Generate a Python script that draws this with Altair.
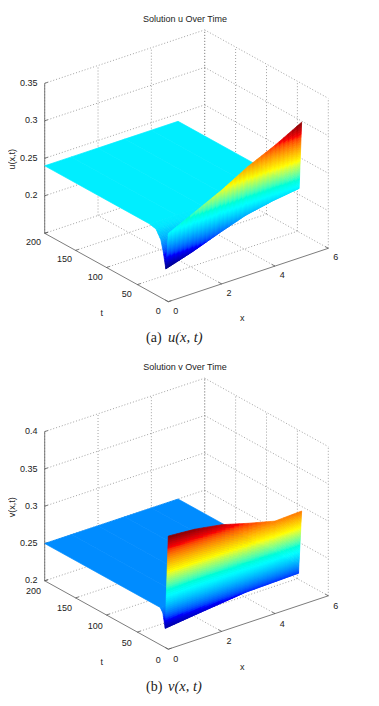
import altair as alt
import pandas as pd
import numpy as np

FONT = "Liberation Sans"
JET = ["#000080", "#0000ff", "#00ffff", "#ffff00", "#ff0000", "#800000"]
JET_STOPS = [0, 0.125, 0.375, 0.625, 0.875, 1]

# shared axis ticks
x_ticks = [0, 2, 4, 6]
t_ticks = [0, 50, 100, 150, 200]

# surface nodes
x_nodes = [0, 1, 2, 3, 4, 5]
t_rows_u = [200, 30, 20, 12, 8, 4, 0]
u_rows = [
    [0.240, 0.240, 0.240, 0.240, 0.240, 0.240],
    [0.240, 0.240, 0.240, 0.240, 0.240, 0.240],
    [0.238, 0.239, 0.240, 0.240, 0.240, 0.240],
    [0.227, 0.232, 0.237, 0.240, 0.240, 0.240],
    [0.212, 0.222, 0.232, 0.238, 0.240, 0.240],
    [0.192, 0.203, 0.216, 0.228, 0.235, 0.240],
    [0.241, 0.258, 0.275, 0.295, 0.311, 0.330],
]
u_ticks = [0.15, 0.2, 0.25, 0.3, 0.35]
u_labels = ["", "0.2", "0.25", "0.3", "0.35"]
u_color_range = [0.192, 0.330]

t_rows_v = [200, 13, 9, 5, 0]
v_rows = [
    [0.250, 0.250, 0.250, 0.250, 0.250, 0.250],
    [0.250, 0.250, 0.250, 0.250, 0.250, 0.250],
    [0.245, 0.247, 0.249, 0.250, 0.250, 0.250],
    [0.2257, 0.2300, 0.234, 0.238, 0.239, 0.240],
    [0.3517, 0.349, 0.343, 0.333, 0.324, 0.3256],
]
v_ticks = [0.2, 0.25, 0.3, 0.35, 0.4]
v_labels = ["0.2", "0.25", "0.3", "0.35", "0.4"]
v_color_range = [0.2215, 0.3517]


def panel(top, height, dy, z0, zscale, zticks, zlabels, t_rows, rows, crange, title, title_y,
          cap_a, cap_b, cap_y, zname, xlab_dy, tlab_dy, xname_y, tname_y, zname_y):
    xmax, tmax = 6.0, 200.0
    ztop = zticks[-1]

    def px(x, t):
        return 168.3 + x * 160 / 6 - t * 123.6 / 200

    def py(x, t, z):
        return 301.7 + dy - x * 53.4 / 6 - t * 68.4 / 200 - (z - z0) * zscale

    # grid and axes
    seg = []
    def add(kind, a, b):
        seg.append(dict(kind=kind, x1=px(a[0], a[1]), y1=py(*a), x2=px(b[0], b[1]), y2=py(*b)))
    for z in zticks:
        if z != z0:
            add("grid", (0, tmax, z), (xmax, tmax, z))
            add("grid", (xmax, tmax, z), (xmax, 0, z))
    for x in x_ticks:
        add("grid", (x, tmax, z0), (x, tmax, ztop))
        if x not in (0, 6):
            add("grid", (x, 0, z0), (x, tmax, z0))
    for t in t_ticks:
        add("grid", (xmax, t, z0), (xmax, t, ztop))
        if t not in (0,):
            add("grid", (0, t, z0), (xmax, t, z0))
    add("grid", (xmax, 0, z0), (xmax, tmax, z0))
    add("axis", (0, tmax, z0), (0, tmax, ztop))
    add("axis", (0, tmax, z0), (0, 0, z0))
    add("axis", (0, 0, z0), (xmax, 0, z0))
    for z in zticks:
        add("axis", (0, tmax, z), (0.12, tmax, z))
    for x in x_ticks:
        add("axis", (x, 0, z0), (x, 5, z0))
    for t in t_ticks:
        add("axis", (0, t, z0), (0.12, t, z0))
    seg = pd.DataFrame(seg)

    # Gouraud-like shading: each read cell is split into small flat facets
    polys = []
    pid = 0
    for r in range(len(t_rows) - 1):
        ta, tb = t_rows[r], t_rows[r + 1]
        za, zb = np.array(rows[r]), np.array(rows[r + 1])
        wall = r == len(t_rows) - 2
        flat = np.ptp(np.r_[za, zb]) < 1e-6
        nv = 45 if wall else (1 if flat else 8)
        nu = 1 if flat else 6
        for c in range(len(x_nodes) - 1, 0, -1):
            xl, xr = x_nodes[c - 1], x_nodes[c]
            for i in range(nu):
                for j in range(nv):
                    corners = []
                    for fu, fv in [(i, j), (i + 1, j), (i + 1, j + 1), (i, j + 1), (i, j)]:
                        u, v = fu / nu, fv / nv
                        x = xl + (xr - xl) * u
                        t = ta + (tb - ta) * v
                        z = (1 - v) * ((1 - u) * za[c - 1] + u * za[c]) + v * ((1 - u) * zb[c - 1] + u * zb[c])
                        corners.append((x, t, z))
                    zm = np.mean([p[2] for p in corners[:4]])
                    for k, (x, t, z) in enumerate(corners):
                        polys.append(dict(pid=pid, ord=k, sx=px(x, t), sy=py(x, t, z), z=zm))
                    pid += 1
    polys = pd.DataFrame(polys)
    color = alt.Scale(domain=[float(crange[0] + (crange[1] - crange[0]) * s) for s in JET_STOPS], range=JET)

    xs = alt.Scale(domain=[8, 371], nice=False, zero=False)
    ys = alt.Scale(domain=[top + height, top], nice=False, zero=False)
    X = alt.X("sx:Q", scale=xs, axis=None)
    Y = alt.Y("sy:Q", scale=ys, axis=None)

    def rules(kind, **kw):
        return alt.Chart(seg[seg.kind == kind]).mark_rule(**kw).encode(
            x=alt.X("x1:Q", scale=xs, axis=None), y=alt.Y("y1:Q", scale=ys, axis=None), x2="x2:Q", y2="y2:Q")

    grid = rules("grid", color="#8a8a8a", strokeWidth=0.8, strokeDash=[1, 2])
    axes = rules("axis", color="#5a5a5a", strokeWidth=0.8)

    surface = alt.Chart(polys).mark_line(filled=True, strokeWidth=0.7, strokeJoin="round").encode(
        x=X, y=Y, order="ord:Q", detail="pid:N",
        fill=alt.Fill("z:Q", scale=color, legend=None),
        stroke=alt.Stroke("z:Q", scale=color, legend=None),
    )

    # tick labels and names
    tx = []
    for x in x_ticks:
        tx.append(dict(sx=px(x, 0) + 7.4, sy=py(x, 0, z0) + xlab_dy, s=str(x), a=0, f=9))
    for t in t_ticks:
        tx.append(dict(sx=px(0, t) - 10 - (len(str(t)) - 1) * 0.6, sy=py(0, t, z0) + tlab_dy, s=str(t), a=0, f=9))
    tx.append(dict(sx=242.3, sy=xname_y, s="x", a=0, f=9))
    tx.append(dict(sx=101.7, sy=tname_y, s="t", a=0, f=9))
    tx.append(dict(sx=12.3, sy=zname_y, s=zname, a=270, f=9))
    tx.append(dict(sx=185, sy=title_y, s=title, a=0, f=9))
    tx = pd.DataFrame(tx)
    labels = alt.Chart(tx).mark_text(font=FONT, color="#222222", align="center", baseline="middle").encode(
        x=X, y=Y, text="s:N", angle=alt.Angle("a:Q", scale=None), size=alt.Size("f:Q", scale=None))

    zt = pd.DataFrame(dict(sx=[37.6] * len(zticks), sy=[py(0, tmax, z) - 0.4 for z in zticks], s=zlabels))
    zlab = alt.Chart(zt).mark_text(font=FONT, fontSize=9, color="#222222", align="right", baseline="middle").encode(
        x=X, y=Y, text="s:N")

    ca = alt.Chart(pd.DataFrame(dict(sx=[146.0], sy=[cap_y], s=[cap_a]))).mark_text(
        font="Liberation Serif", fontSize=14, color="#222222", align="left", baseline="middle"
    ).encode(x=X, y=Y, text="s:N")
    cb = alt.Chart(pd.DataFrame(dict(sx=[168.0], sy=[cap_y], s=[cap_b]))).mark_text(
        font="Liberation Serif", fontSize=14.5, fontStyle="italic", color="#222222", align="left", baseline="middle"
    ).encode(x=X, y=Y, text="s:N")

    return alt.layer(grid, axes, surface, labels, zlab, ca, cb).properties(width=363, height=height)


top_panel = panel(8, 345, 0, 0.15, 750, u_ticks, u_labels, t_rows_u, u_rows, u_color_range,
                  "Solution u Over Time", 19.3, "(a)", "u(x, t)", 338, "u(x,t)",
                  9, 9, 318.3, 313.3, 159.3)
bot_panel = panel(353, 345, 347.5, 0.2, 746, v_ticks, v_labels, t_rows_v, v_rows, v_color_range,
                  "Solution v Over Time", 367.3, "(b)", "v(x, t)", 686.7, "v(x,t)",
                  10, 10.5, 666.7, 662.3, 507.3)

chart = alt.vconcat(top_panel, bot_panel, spacing=0).resolve_scale(
    fill="independent", stroke="independent"
).properties(padding=0, background="white").configure_view(stroke=None)

chart.save("out.html", embed_options={"renderer": "svg", "actions": False})
